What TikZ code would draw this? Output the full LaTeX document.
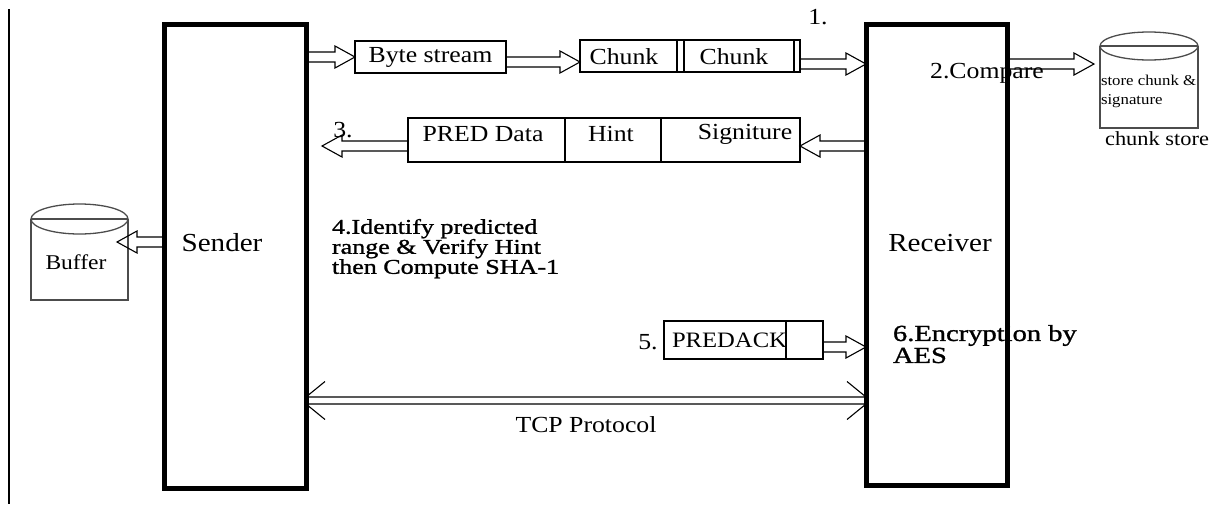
\documentclass[tikz,border=0pt]{standalone}
\usepackage{fontspec}
\setmainfont{Liberation Serif}[FakeStretch=1.12]
\newfontfamily\notefont{Liberation Serif}[FakeStretch=1.24, FakeBold=1.2]
\usetikzlibrary{calc}
\tikzset{
  x=1pt, y=-1pt,
  every node/.style={inner sep=0pt, outer sep=0pt},
  bigbox/.style={draw, line width=5pt},
  pkt/.style={draw, line width=1.3pt},
  cyl/.style={draw=black!70, line width=1.3pt},
  lbl/.style={font=\fontsize{23}{25}\selectfont},
  big/.style={font=\fontsize{26}{28}\selectfont},
  note/.style={font=\notefont\fontsize{21}{20}\selectfont, align=left},
  small/.style={font=\fontsize{15}{19}\selectfont, align=left},
  % hollow block arrow between two points (horizontal)
  hollow/.style={line width=1.1pt, to path={
    let \p1=(\tikztostart), \p2=(\tikztotarget),
        \n1={ifthenelse(\x2>\x1,1,-1)} in
    (\x1,{\y1+5pt}) -- ({\x2-\n1*20pt},{\y1+5pt}) -- ({\x2-\n1*20pt},{\y1+11pt})
    -- (\x2,\y1) -- ({\x2-\n1*20pt},{\y1-11pt}) -- ({\x2-\n1*20pt},{\y1-5pt})
    -- (\x1,{\y1-5pt}) -- cycle}},
  % double-headed channel with open heads
  channel/.style={line width=1.1pt, to path={
    let \p1=(\tikztostart), \p2=(\tikztotarget) in
    (\x1,{\y1+3.5pt}) -- (\x2,{\y1+3.5pt})
    (\x1,{\y1-3.5pt}) -- (\x2,{\y1-3.5pt})
    ({\x1+19pt},{\y1+19pt}) -- (\x1,{\y1+3.5pt})
    ({\x1+19pt},{\y1-19pt}) -- (\x1,{\y1-3.5pt})
    ({\x2-19pt},{\y1+19pt}) -- (\x2,{\y1+3.5pt})
    ({\x2-19pt},{\y1-19pt}) -- (\x2,{\y1-3.5pt})}}
}
\begin{document}
\begin{tikzpicture}
\useasboundingbox (0,0) rectangle (1213,504);

% page margin rule
\draw[line width=2pt] (9,9) -- (9,504);

% end hosts
\node[bigbox, minimum width=142pt, minimum height=464pt] (sender) at (235,256) {};
\node[big] (sendertxt) at (222,243) {Sender};
\node[bigbox, minimum width=141pt, minimum height=461pt] (receiver) at (936.5,254.5) {};
\node[big] (receivertxt) at (940,243) {Receiver};

% byte stream and chunks
\node[pkt, lbl, minimum width=151pt, minimum height=32pt] (bytes) at (430.5,57) {Byte stream};
\node[pkt, minimum width=220pt, minimum height=32pt] (chunks) at (690,56) {};
\draw[pkt] (677,40) -- (677,72) (684,40) -- (684,72) (794,40) -- (794,72);
\node[lbl] (chunkA) at (624,57) {Chunk};
\node[lbl] (chunkB) at (734,57) {Chunk};
\node[lbl] (one) at (818,17) {1.};

% chunk store
\node (store) at (1149,87) [minimum width=98pt, minimum height=82pt] {};
\draw[cyl] (store.north west) -- (store.south west) -- (store.south east) -- (store.north east);
\draw[cyl] (store.north) ellipse [x radius=49pt, y radius=14pt];
\draw[cyl] (store.north west) -- (store.north east);
\node[small, anchor=north west] (storetxt) at (1101,75) {store chunk \&\\signature};
\node[lbl, font=\fontsize{20}{22}\selectfont] (storelbl) at (1157,139) {chunk store};
\node[lbl] (compare) at (987,73) {2.Compare};

% prediction packet
\node[pkt, minimum width=392pt, minimum height=44pt] (pred) at (604,140) {};
\draw[pkt] (565,118) -- (565,162) (661,118) -- (661,162);
\node[lbl] (predtxt) at (483,134) {PRED Data};
\node[lbl] (hinttxt) at (611,134) {Hint};
\node[lbl] (sigtxt) at (745,134) {Signiture};
\node[lbl] (three) at (343,130) {3.};

% buffer
\node (buffer) at (79.5,259.5) [minimum width=97pt, minimum height=81pt] {};
\draw[cyl] (buffer.north west) -- (buffer.south west) -- (buffer.south east) -- (buffer.north east);
\draw[cyl] (buffer.north) ellipse [x radius=48.5pt, y radius=15pt];
\draw[cyl] (buffer.north west) -- (buffer.north east);
\node[lbl, font=\fontsize{21}{22}\selectfont] (buffertxt) at (76,262) {Buffer};

% step notes
\node[note, anchor=north west] (step4) at (332,219) {4.Identify predicted\\range \& Verify Hint\\then Compute SHA-1};
\node[note, anchor=north west, font=\notefont\fontsize{23}{22}\selectfont] (step6) at (893,325) {6.Encryption by\\AES};

% acknowledgement packet
\node[pkt, minimum width=159pt, minimum height=38pt] (ack) at (743.5,340) {};
\draw[pkt] (786,321) -- (786,359);
\node[lbl, anchor=west, font=\fontsize{22}{24}\selectfont] (acktxt) at (672,340) {PREDACK};
\node[lbl] (five) at (648,342) {5.};

% arrow end points
\coordinate (a1) at (sender.east |- 0,57);
\coordinate (a2) at (bytes.west |- 0,57);
\coordinate (b1) at (bytes.east |- 0,62);
\coordinate (b2) at (chunks.west |- 0,62);
\coordinate (c1) at (chunks.east |- 0,64);
\coordinate (c2) at (receiver.west |- 0,64);
\coordinate (d1) at (receiver.east |- 0,64);
\coordinate (d2) at (1094,64);
\coordinate (e1) at (receiver.west |- 0,146);
\coordinate (e2) at (pred.east |- 0,146);
\coordinate (f1) at (pred.west |- 0,146);
\coordinate (f2) at (322,146);
\coordinate (g1) at (sender.west |- 0,242);
\coordinate (g2) at (117,242);
\coordinate (h1) at (ack.east |- 0,347);
\coordinate (h2) at (receiver.west |- 0,347);
\coordinate (t1) at (sender.east |- 0,400.5);
\coordinate (t2) at (receiver.west |- 0,400.5);

% data flow
\draw[hollow] (a1) to (a2);
\draw[hollow] (b1) to (b2);
\draw[hollow] (c1) to (c2);
\draw[hollow] (d1) to (d2);
\draw[hollow] (e1) to (e2);
\draw[hollow] (f1) to (f2);
\draw[hollow] (g1) to (g2);
\draw[hollow] (h1) to (h2);

% transport channel
\draw[channel] (t1) to (t2);
\node[lbl] (tcp) at (586,425) {TCP Protocol};
\end{tikzpicture}
\end{document}
